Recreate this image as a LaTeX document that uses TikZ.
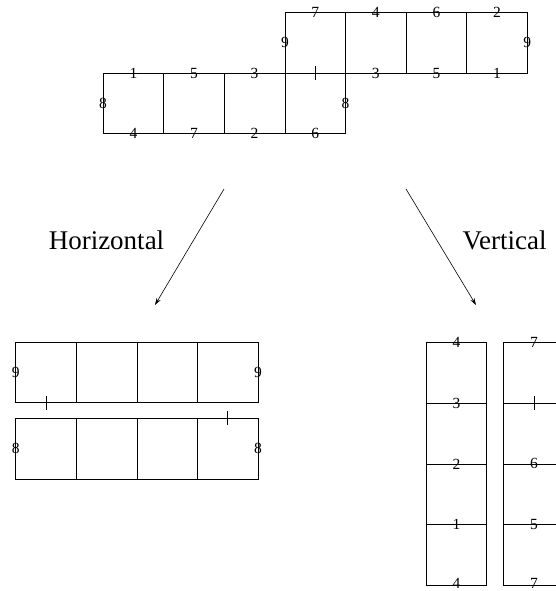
\documentclass[tikz,border=0pt]{standalone}
\usepackage{fontspec}
\setmainfont{Liberation Serif}
\usetikzlibrary{positioning}
\usetikzlibrary{arrows.meta}

\tikzset{
    cell/.style={draw=black, line width=0.8pt, minimum size=60.6pt, inner sep=0pt, outer sep=0pt},
    num/.style={inner sep=0pt, font=\fontsize{15.5}{15.5}\selectfont},
    title/.style={anchor=base, inner sep=0pt, font=\fontsize{27}{27}\selectfont},
    flip/.style={-{Stealth[length=7pt, width=4.5pt]}, line width=0.6pt}
}
\newcommand{\tickmark}[1]{\draw[line width=0.8pt] ([yshift=7pt]#1) -- ([yshift=-7pt]#1);}

\begin{document}
\begin{tikzpicture}[x=1pt, y=-1pt]
    \useasboundingbox (0,0) rectangle (556,591);
    \clip (0,0) rectangle (556,591);

    % the net
    \node[cell] (a1) at (133.4,103.4) {};
    \node[cell, right=0pt of a1] (a2) {};
    \node[cell, right=0pt of a2] (a3) {};
    \node[cell, right=0pt of a3] (a4) {};
    \node[cell, above=0pt of a4] (b1) {};
    \node[cell, right=0pt of b1] (b2) {};
    \node[cell, right=0pt of b2] (b3) {};
    \node[cell, right=0pt of b3] (b4) {};

    \node[num] (na1) at (a1.north) {1};
    \node[num] (na2) at (a2.north) {5};
    \node[num] (na3) at (a3.north) {3};
    \tickmark{a4.north}
    \node[num] (sa1) at (a1.south) {4};
    \node[num] (sa2) at (a2.south) {7};
    \node[num] (sa3) at (a3.south) {2};
    \node[num] (sa4) at (a4.south) {6};
    \node[num] (wa1) at (a1.west) {8};
    \node[num] (ea4) at (a4.east) {8};
    \node[num] (nb1) at (b1.north) {7};
    \node[num] (nb2) at (b2.north) {4};
    \node[num] (nb3) at (b3.north) {6};
    \node[num] (nb4) at (b4.north) {2};
    \node[num] (sb2) at (b2.south) {3};
    \node[num] (sb3) at (b3.south) {5};
    \node[num] (sb4) at (b4.south) {1};
    \node[num] (wb1) at (b1.west) {9};
    \node[num] (eb4) at (b4.east) {9};

    % arrows and titles
    \coordinate (hfrom) at (224,189);
    \coordinate (hto) at (155,305);
    \coordinate (vfrom) at (406,189);
    \coordinate (vto) at (476,305);
    \draw[flip] (hfrom) -- (hto);
    \draw[flip] (vfrom) -- (vto);
    \node[title] (horiz) at (106.5,249) {Horizontal};
    \node[title] (vert) at (504.5,249) {Vertical};

    % horizontal strips
    \node[cell] (h1) at (46,372.3) {};
    \node[cell, right=0pt of h1] (h2) {};
    \node[cell, right=0pt of h2] (h3) {};
    \node[cell, right=0pt of h3] (h4) {};
    \node[cell, below=15.7pt of h1] (g1) {};
    \node[cell, right=0pt of g1] (g2) {};
    \node[cell, right=0pt of g2] (g3) {};
    \node[cell, right=0pt of g3] (g4) {};

    \node[num] (wh1) at (h1.west) {9};
    \node[num] (eh4) at (h4.east) {9};
    \node[num] (wg1) at (g1.west) {8};
    \node[num] (eg4) at (g4.east) {8};
    \tickmark{h1.south}
    \tickmark{g4.north}

    % vertical strips
    \node[cell] (v1) at (456.4,373) {};
    \node[cell, below=0pt of v1] (v2) {};
    \node[cell, below=0pt of v2] (v3) {};
    \node[cell, below=0pt of v3] (v4) {};
    \node[cell, right=17pt of v1] (w1) {};
    \node[cell, below=0pt of w1] (w2) {};
    \node[cell, below=0pt of w2] (w3) {};
    \node[cell, below=0pt of w3] (w4) {};

    \node[num] (nv1) at (v1.north) {4};
    \node[num] (sv1) at (v1.south) {3};
    \node[num] (sv2) at (v2.south) {2};
    \node[num] (sv3) at (v3.south) {1};
    \node[num, yshift=1.5pt] (sv4) at (v4.south) {4};
    \node[num] (nw1) at (w1.north) {7};
    \tickmark{w1.south}
    \node[num] (sw2) at (w2.south) {6};
    \node[num] (sw3) at (w3.south) {5};
    \node[num, yshift=1.5pt] (sw4) at (w4.south) {7};
\end{tikzpicture}
\end{document}
